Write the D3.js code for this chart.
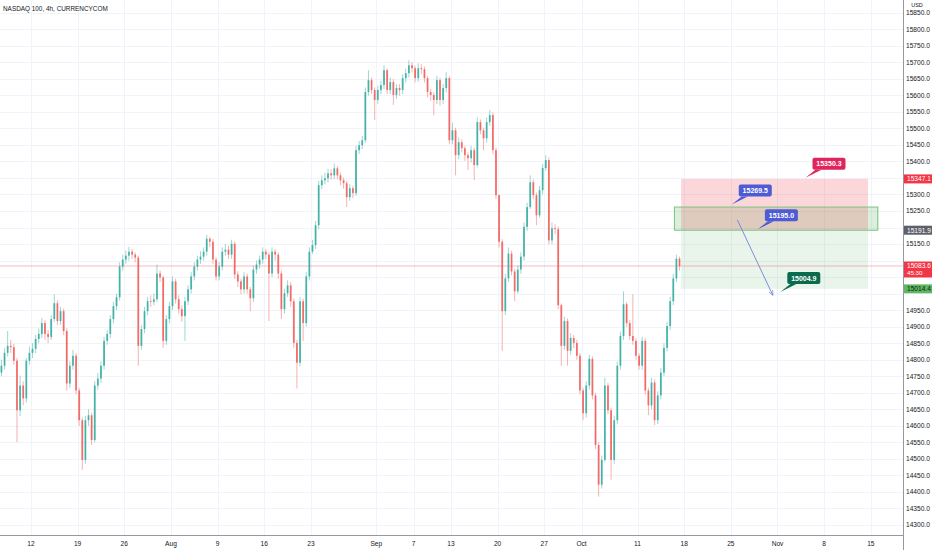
<!DOCTYPE html>
<html>
<head>
<meta charset="utf-8">
<script src="https://cdn.jsdelivr.net/npm/d3@7/dist/d3.min.js"></script>
<style>
  body { margin: 0; background: #fff; }
  svg { display: block; font-family: "Liberation Sans", Arial, sans-serif; }
</style>
</head>
<body>
<svg id="chart" width="932" height="550"></svg>
<script>
const title = "NASDAQ 100, 4h, CURRENCYCOM";

// candles, one every third of a trading day, open = previous close
const firstOpen = 14761;
const closes = [
  14782,14821,14842,14838,14797,14647,14722,14683,14797,14821,
  14833,14863,14878,14911,14878,14869,14923,14971,14917,14947,
  14887,14728,14782,14812,14707,14617,14497,14617,14632,14557,
  14722,14743,14782,14857,14878,14923,14962,14989,15082,15103,
  15115,15127,15118,15109,14842,14893,14947,14977,14975,14983,
  15061,15049,14857,14923,14962,15037,14983,14953,14932,14977,
  15013,15052,15082,15103,15112,15127,15166,15157,15103,15052,
  15082,15127,15133,15118,15151,15058,15037,15013,15052,15013,
  14986,15073,15088,15103,15127,15118,15061,15127,15118,15061,
  14953,15001,15025,14977,14851,14791,14977,14911,15052,15127,
  15147,15207,15328,15343,15349,15364,15358,15379,15358,15343,
  15334,15292,15319,15304,15434,15449,15464,15610,15646,15616,
  15586,15616,15631,15676,15616,15640,15601,15622,15616,15652,
  15667,15691,15682,15652,15682,15679,15652,15610,15601,15586,
  15646,15586,15622,15652,15464,15494,15419,15458,15440,15419,
  15410,15434,15389,15519,15494,15470,15519,15540,15434,15298,
  15157,14947,15046,15121,15067,15007,15073,15112,15202,15262,
  15337,15298,15237,15313,15380,15404,15161,15198,15195,14965,
  14842,14917,14827,14866,14851,14812,14707,14638,14722,14803,
  14692,14542,14422,14497,14722,14647,14497,14617,14782,14872,
  14968,14911,14872,14857,14812,14782,14857,14707,14662,14731,
  14617,14692,14761,14836,14902,14977,15046,15106,15083.6
];
const highs = [
  14800,14835,14887,14860,14848,14805,14752,14735,14805,14840,
  14850,14875,14895,14926,14920,14890,14935,14998,14980,14960,
  14955,14895,14795,14830,14820,14715,14625,14630,14650,14640,
  14735,14760,14795,14870,14890,14935,14975,15000,15095,15118,
  15130,15142,15135,15125,15115,14905,14960,14990,14995,15000,
  15088,15070,15055,14935,14975,15052,15045,14995,14965,14990,
  15025,15065,15095,15115,15128,15140,15178,15172,15165,15110,
  15095,15140,15150,15145,15163,15158,15068,15045,15065,15060,
  15020,15085,15100,15115,15140,15135,15125,15140,15135,15125,
  15070,15015,15040,15035,14985,14860,14990,14985,15065,15140,
  15163,15220,15341,15358,15366,15378,15376,15394,15386,15366,
  15351,15341,15331,15326,15447,15462,15477,15624,15676,15654,
  15624,15629,15644,15691,15681,15654,15649,15634,15634,15664,
  15681,15706,15701,15689,15697,15694,15687,15659,15619,15609,
  15659,15654,15634,15670,15659,15517,15502,15472,15467,15447,
  15427,15447,15442,15533,15527,15502,15533,15555,15548,15442,
  15300,15165,15060,15140,15130,15075,15085,15125,15215,15275,
  15358,15346,15306,15326,15392,15419,15412,15215,15210,15203,
  14970,14930,14925,14880,14875,14860,14820,14715,14735,14815,
  14810,14700,14550,14510,14746,14730,14655,14630,14795,14885,
  15007,14975,14920,14998,14865,14820,14870,14865,14715,14745,
  14740,14705,14775,14850,14915,14990,15060,15118,15112
];
const lows = [
  14750,14770,14810,14820,14785,14551,14630,14662,14670,14785,
  14805,14820,14850,14865,14860,14850,14860,14915,14905,14905,
  14875,14707,14715,14770,14695,14600,14467,14485,14600,14542,
  14550,14710,14730,14770,14845,14865,14910,14950,14980,15070,
  15090,15100,15105,15095,14782,14830,14880,14935,14960,14965,
  14975,15035,14836,14845,14910,14950,14970,14940,14915,14857,
  14965,15000,15040,15070,15090,15100,15115,15140,15090,15040,
  15040,15070,15115,15105,15105,15045,15020,14998,15000,15000,
  14947,14975,15060,15075,15090,15105,14917,15050,15100,15045,
  14923,14940,14990,14960,14835,14713,14780,14857,14900,15040,
  15120,15135,15195,15316,15331,15336,15344,15346,15346,15328,
  15318,15262,15281,15289,15296,15422,15437,15457,15599,15604,
  15525,15574,15604,15619,15604,15604,15571,15589,15599,15604,
  15639,15654,15669,15639,15641,15664,15639,15594,15584,15540,
  15574,15569,15574,15609,15452,15452,15358,15407,15427,15402,
  15374,15397,15343,15382,15482,15434,15457,15508,15422,15286,
  15140,14827,14935,15035,15055,14977,15000,15060,15100,15190,
  15256,15286,15207,15230,15301,15372,15149,15149,15180,14953,
  14782,14830,14782,14815,14835,14800,14695,14617,14625,14710,
  14680,14530,14386,14410,14490,14635,14437,14485,14605,14770,
  14860,14900,14860,14845,14800,14770,14770,14695,14632,14650,
  14602,14605,14680,14750,14825,14890,14965,15035,15070
];

// time axis (in trading days counted from Mon 12 Jul)
const dateTickDays = [0, 5, 10, 15, 20, 25, 30, 37, 41, 45, 50, 55, 59, 65, 70, 75, 80, 85, 90];
const dateTickLabels = ["12", "19", "26", "Aug", "9", "16", "23", "Sep", "7", "13", "20", "27", "Oct", "11", "18", "25", "Nov", "8", "15"];

const priceTicks = [14300, 14350, 14400, 14450, 14500, 14550, 14600, 14650, 14700, 14750,
  14800, 14850, 14900, 14950, 15000, 15050, 15100, 15150, 15200, 15250, 15300, 15350,
  15400, 15450, 15500, 15550, 15600, 15650, 15700, 15750, 15800, 15850];

// short position tool + zone rectangle
const lastPrice = 15083.6, countdown = "45:30";
const stopPrice = 15347.1, entryPrice = 15191.9, targetPrice = 15014.4;
const positionDays = [69.67, 89.7];
const zoneDays = [68.9, 90.8], zoneTop = 15262;

const callouts = [
  { text: "15350.3", day: 83.0, price: 15350.3, color: "#e2245c" },
  { text: "15269.5", day: 75.1, price: 15269.5, color: "#4d5bd5" },
  { text: "15195.0", day: 77.9, price: 15195.0, color: "#4d5bd5" },
  { text: "15004.9", day: 80.3, price: 15004.9, color: "#0b6b4e" }
];
const arrowFrom = { day: 75.7, price: 15223 }, arrowTo = { day: 79.5, price: 14995 };

const width = 932, height = 550, plotRight = 903, plotBottom = 535;
const upColor = "#26a69a", downColor = "#ef5350";

const svg = d3.select("#chart");
const x = d3.scaleLinear().domain([-3.32, 93.45]).range([0, plotRight]);
const y = d3.scaleLinear().domain([14300, 15850]).range([525, 12.7]);

svg.append("defs").append("clipPath").attr("id", "plot")
  .append("rect").attr("width", plotRight).attr("height", plotBottom);

const plot = svg.append("g").attr("clip-path", "url(#plot)");

// grid
plot.selectAll(".hgrid").data(priceTicks).enter().append("line")
  .attr("x1", 0).attr("x2", plotRight)
  .attr("y1", d => Math.round(y(d)) + 0.5).attr("y2", d => Math.round(y(d)) + 0.5)
  .attr("stroke", "#f0f3fa").attr("stroke-width", 1);
plot.selectAll(".vgrid").data(dateTickDays).enter().append("line")
  .attr("y1", 0).attr("y2", plotBottom)
  .attr("x1", d => Math.round(x(d)) + 0.5).attr("x2", d => Math.round(x(d)) + 0.5)
  .attr("stroke", "#f0f3fa").attr("stroke-width", 1);

// rectangle fill (under the position zones)
plot.append("rect")
  .attr("x", x(zoneDays[0])).attr("width", x(zoneDays[1]) - x(zoneDays[0]))
  .attr("y", y(zoneTop)).attr("height", y(entryPrice) - y(zoneTop))
  .attr("fill", "rgba(76,175,80,0.2)");

// position zones
plot.append("rect")
  .attr("x", x(positionDays[0])).attr("width", x(positionDays[1]) - x(positionDays[0]))
  .attr("y", y(stopPrice)).attr("height", y(entryPrice) - y(stopPrice))
  .attr("fill", "rgba(242,54,69,0.2)");
plot.append("rect")
  .attr("x", x(positionDays[0])).attr("width", x(positionDays[1]) - x(positionDays[0]))
  .attr("y", y(entryPrice)).attr("height", y(targetPrice) - y(entryPrice))
  .attr("fill", "rgba(76,175,80,0.12)");

// rectangle border
plot.append("rect")
  .attr("x", x(zoneDays[0]) + 0.5).attr("width", x(zoneDays[1]) - x(zoneDays[0]) - 1)
  .attr("y", y(zoneTop)).attr("height", y(entryPrice) - y(zoneTop))
  .attr("fill", "none").attr("stroke", "#7cc47f").attr("stroke-width", 1);

// last price line
plot.append("line")
  .attr("x1", 0).attr("x2", plotRight)
  .attr("y1", y(lastPrice)).attr("y2", y(lastPrice))
  .attr("stroke", downColor).attr("stroke-opacity", 0.5).attr("stroke-width", 0.8);

// candles
const candles = closes.map((c, i) => ({
  day: -4 + (i + 2.5) / 3,
  open: i ? closes[i - 1] : firstOpen,
  close: c, high: highs[i], low: lows[i]
}));

const cg = plot.selectAll(".candle").data(candles).enter().append("g");
cg.append("line")
  .attr("x1", d => x(d.day)).attr("x2", d => x(d.day))
  .attr("y1", d => y(d.high)).attr("y2", d => y(d.low))
  .attr("stroke", d => d.close >= d.open ? upColor : downColor)
  .attr("stroke-opacity", 0.5).attr("stroke-width", 0.9);
cg.append("rect")
  .attr("x", d => x(d.day) - 0.9).attr("width", 1.8)
  .attr("y", d => y(Math.max(d.open, d.close)))
  .attr("height", d => Math.max(0.8, Math.abs(y(d.open) - y(d.close))))
  .attr("fill", d => d.close >= d.open ? upColor : downColor)
  .attr("fill-opacity", 0.78);

// arrow
svg.append("defs").append("marker").attr("id", "head")
  .attr("viewBox", "0 0 10 10").attr("refX", 9).attr("refY", 5)
  .attr("markerWidth", 6).attr("markerHeight", 6).attr("orient", "auto")
  .append("path").attr("d", "M0,1 L9,5 L0,9").attr("fill", "none")
  .attr("stroke", "#6d82dc").attr("stroke-width", 1.2);
plot.append("line")
  .attr("x1", x(arrowFrom.day)).attr("y1", y(arrowFrom.price))
  .attr("x2", x(arrowTo.day)).attr("y2", y(arrowTo.price))
  .attr("stroke", "#6d82dc").attr("stroke-width", 0.9)
  .attr("marker-end", "url(#head)");

// callouts
const cw = 33, ch = 12;
const co = plot.selectAll(".callout").data(callouts).enter().append("g")
  .attr("transform", d => `translate(${x(d.day)},${y(d.price)})`);
co.append("path")
  .attr("d", `M0,0 L${7 + 3},${-8} L${7 + 9},${-8} Z`)
  .attr("fill", d => d.color);
co.append("rect")
  .attr("x", 7).attr("y", -8 - ch).attr("width", cw).attr("height", ch).attr("rx", 2)
  .attr("fill", d => d.color);
co.append("text")
  .attr("x", 7 + cw / 2).attr("y", -8 - ch / 2 + 2.5)
  .attr("text-anchor", "middle").attr("font-size", 7).attr("font-weight", "bold")
  .attr("fill", "#fff").text(d => d.text);

// axes lines
svg.append("line").attr("x1", plotRight + 0.5).attr("x2", plotRight + 0.5)
  .attr("y1", 0).attr("y2", height).attr("stroke", "#9598a1").attr("stroke-width", 1);
svg.append("line").attr("x1", 0).attr("x2", plotRight)
  .attr("y1", plotBottom + 0.5).attr("y2", plotBottom + 0.5).attr("stroke", "#9598a1").attr("stroke-width", 1);

// highlighted scale labels (tick labels under them are hidden)
const marks = [
  { price: stopPrice, bg: "#f23645", fg: "#fff", top: -4.5, bottom: 4.5 },
  { price: entryPrice, bg: "#5d606b", fg: "#fff", top: -4.5, bottom: 4.5 },
  { price: lastPrice, bg: "#f23645", fg: "#fff", top: -4.5, bottom: 11.5, extra: countdown },
  { price: targetPrice, bg: "#5fb760", fg: "#131722", top: -4.5, bottom: 4.5 }
];
const visibleTicks = priceTicks.filter(t => marks.every(m =>
  y(t) + 3.5 < y(m.price) + m.top || y(t) - 3.5 > y(m.price) + m.bottom));

svg.selectAll(".ptick").data(visibleTicks).enter().append("text")
  .attr("x", 906).attr("y", d => y(d) + 2.4)
  .attr("font-size", 6.6).attr("fill", "#131722")
  .text(d => d3.format(".1f")(d));

svg.append("text").attr("x", 917).attr("y", 7).attr("text-anchor", "middle")
  .attr("font-size", 5.5).attr("fill", "#131722").text("USD");

const mg = svg.selectAll(".mark").data(marks).enter().append("g")
  .attr("transform", d => `translate(${plotRight + 1},${y(d.price)})`);
mg.append("rect").attr("x", 0).attr("y", d => d.top)
  .attr("width", width - plotRight - 1).attr("height", d => d.bottom - d.top)
  .attr("fill", d => d.bg);
mg.append("text").attr("x", 3).attr("y", 2.4).attr("font-size", 6.6)
  .attr("fill", d => d.fg).text(d => d3.format(".1f")(d.price));
mg.filter(d => d.extra).append("text").attr("x", 3).attr("y", 9.4).attr("font-size", 6.2)
  .attr("fill", d => d.fg).text(d => d.extra);

// time axis labels
svg.selectAll(".dtick").data(dateTickDays).enter().append("text")
  .attr("x", d => x(d)).attr("y", 545.5).attr("text-anchor", "middle")
  .attr("font-size", 6.6).attr("fill", "#131722")
  .text((d, i) => dateTickLabels[i]);

// title
svg.append("text").attr("x", 3).attr("y", 11)
  .attr("font-size", 6.4).attr("fill", "#131722").text(title);
</script>
</body>
</html>
